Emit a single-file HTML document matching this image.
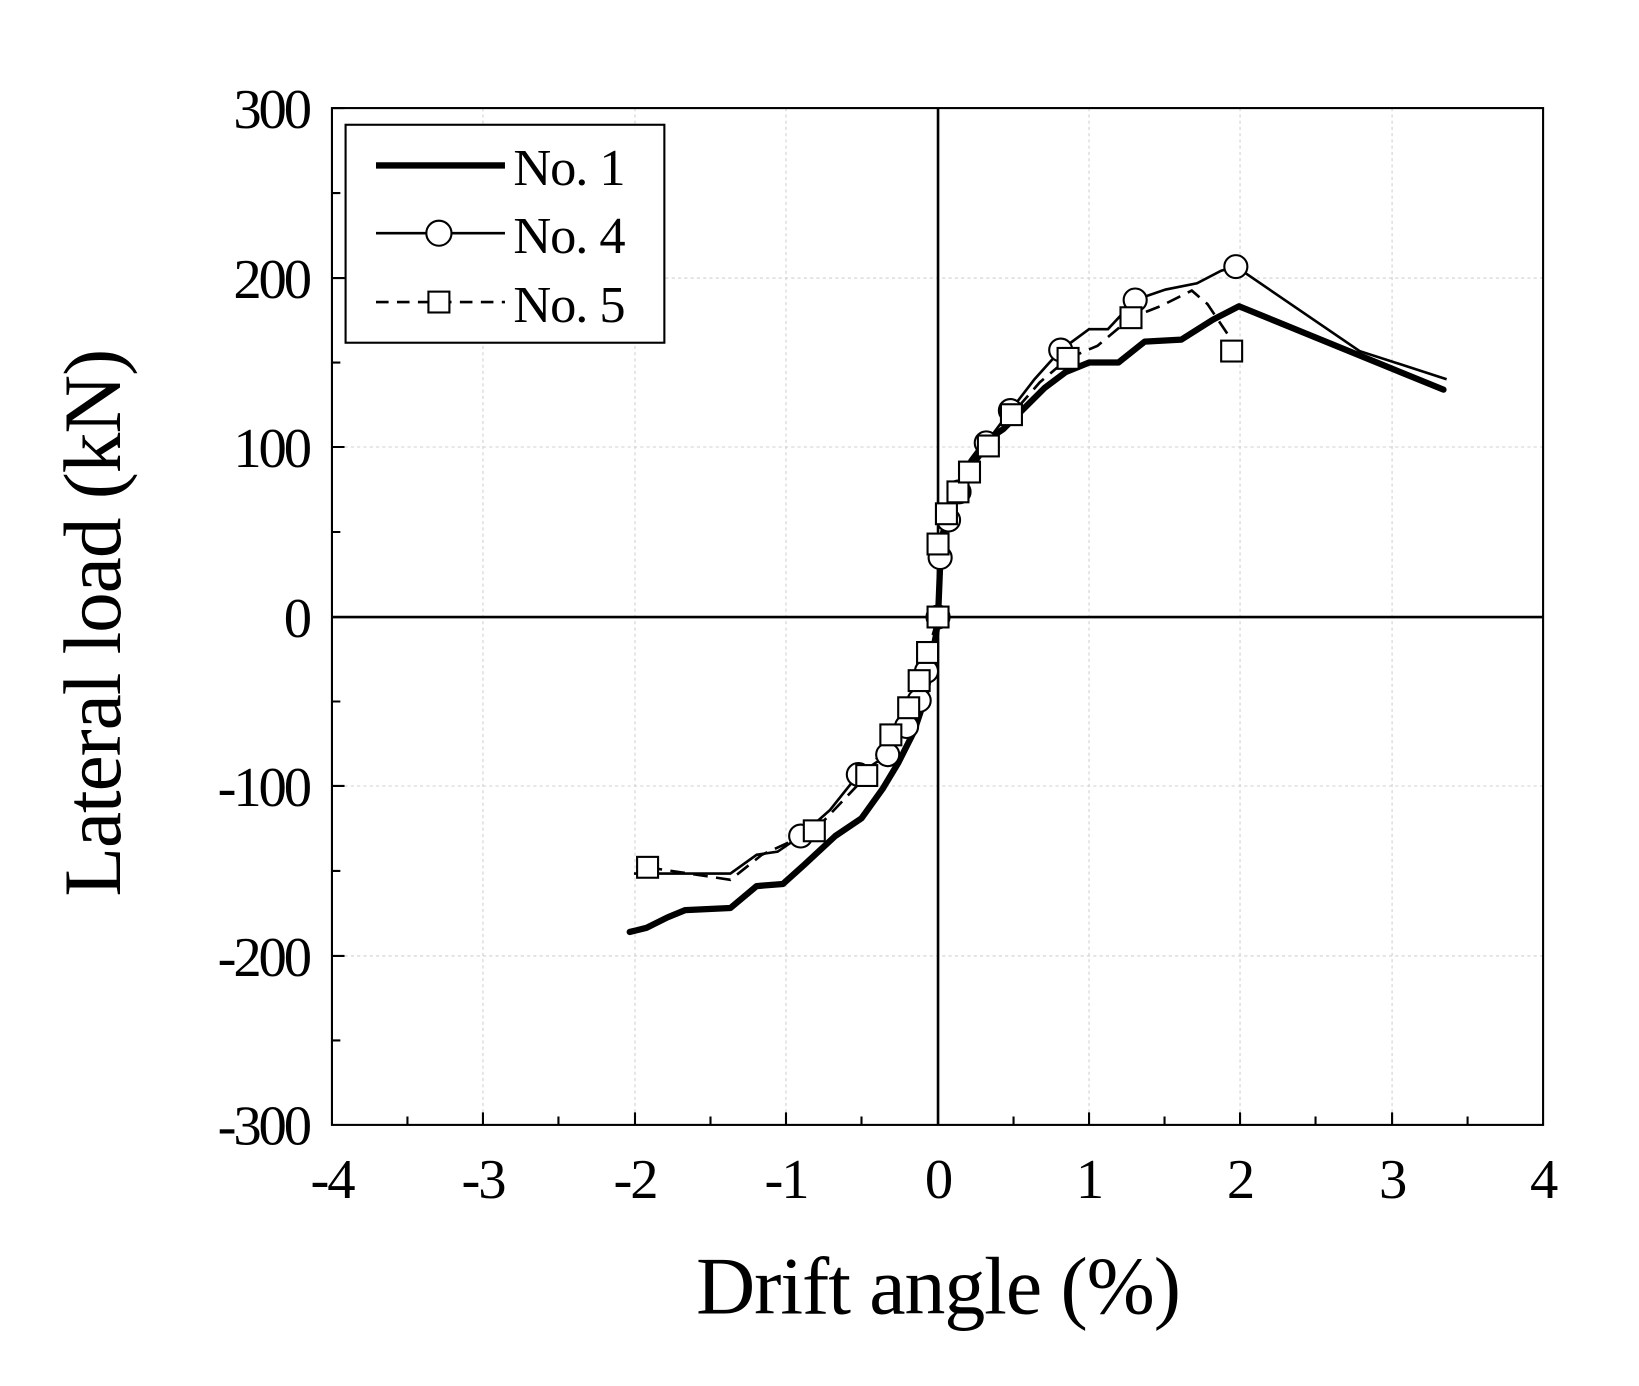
<!DOCTYPE html>
<html><head><meta charset="utf-8"><style>
html,body{margin:0;padding:0;background:#fff;}
svg{display:block;}
text{font-family:"Liberation Serif",serif;fill:#000;}
</style></head><body>
<svg width="1639" height="1386" viewBox="0 0 1639 1386" xmlns="http://www.w3.org/2000/svg">
<rect width="1639" height="1386" fill="#fff"/>
<g transform="matrix(1.0486 0 0 1.0429 -3.6 1.7)">
<g stroke="#d0d0d0" stroke-width="1" stroke-dasharray="3,3">
<line x1="464" y1="102" x2="464" y2="1077"/><line x1="609" y1="102" x2="609" y2="1077"/>
<line x1="753" y1="102" x2="753" y2="1077"/><line x1="1042" y1="102" x2="1042" y2="1077"/>
<line x1="1186" y1="102" x2="1186" y2="1077"/><line x1="1331" y1="102" x2="1331" y2="1077"/>
<line x1="320" y1="265" x2="1475" y2="265"/><line x1="320" y1="427" x2="1475" y2="427"/>
<line x1="320" y1="752" x2="1475" y2="752"/><line x1="320" y1="915" x2="1475" y2="915"/>
</g>
<line x1="898" y1="102" x2="898" y2="1077" stroke="#000" stroke-width="2.5"/>
<line x1="320" y1="590" x2="1475" y2="590" stroke="#000" stroke-width="2.5"/>
<rect x="320" y="102" width="1155" height="975" fill="none" stroke="#000" stroke-width="2"/>
<g stroke="#000" stroke-width="2">
<path d="M320 102h12M320 183.5h8M320 265h12M320 346h8M320 427h12M320 508.5h8M320 590h12M320 671h8M320 752h12M320 833.5h8M320 915h12M320 996h8"/>
<path d="M392 1077v-8M464 1077v-12M536 1077v-8M609 1077v-12M681 1077v-8M753 1077v-12M825 1077v-8M970 1077v-8M1042 1077v-12M1114 1077v-8M1186 1077v-12M1258 1077v-8M1331 1077v-12M1403 1077v-8"/>
</g>
<g font-size="54" text-anchor="end" letter-spacing="-3">
<text x="298" y="121">300</text><text x="298" y="284">200</text><text x="298" y="446">100</text>
<text x="298" y="609">0</text><text x="298" y="771">-100</text><text x="298" y="934">-200</text><text x="298" y="1096">-300</text>
</g>
<g font-size="54" text-anchor="middle" letter-spacing="-2">
<text x="320" y="1147">-4</text><text x="464" y="1147">-3</text><text x="609" y="1147">-2</text><text x="753" y="1147">-1</text>
<text x="898" y="1147">0</text><text x="1042" y="1147">1</text><text x="1186" y="1147">2</text><text x="1331" y="1147">3</text><text x="1475" y="1147">4</text>
</g>
<text x="898" y="1258" font-size="78" text-anchor="middle" letter-spacing="-1">Drift angle (%)</text>
<text transform="translate(118,596) rotate(-90)" font-size="78" text-anchor="middle" letter-spacing="-1">Lateral load (kN)</text>
<polyline fill="none" stroke="#000" stroke-width="6" stroke-linejoin="round" stroke-linecap="round" points="604,892 620,888 640,878 657,871 700,869 725,848 750,846 770,828 800,800 825,783 845,755 860,730 875,700 885,670 893,630 897,600 898,590 900,540 905,500 915,470 930,440 945,420 960,410 975,395 1000,370 1020,355 1042,346 1070,346 1095,326 1130,324 1160,305 1185,292 1380,372"/>
<polyline fill="none" stroke="#000" stroke-width="2.5" points="608,836 700,836 725,818 745,815 767,800 795,775 822,741 850,722 868,695 880,670 887,642 898,590 900,533 908,497 918,470 930,450 944,423 967,392 990,362 1015,334 1042,314 1060,314 1086,286 1115,276 1145,270 1168,258 1182,254 1300,335 1383,362"/>
<polyline fill="none" stroke="#000" stroke-width="2.5" stroke-dasharray="14,8" points="621,830 700,842 730,818 780,795 830,742 853,703 870,677 880,651 888,624 898,590 898,520 906,491 917,470 928,451 946,426 968,396 995,365 1022,342 1050,330 1082,303 1110,292 1140,277 1155,290 1175,320 1178,335"/>
<g fill="#fff" stroke="#000" stroke-width="2">
<circle cx="767" cy="800" r="11"/><circle cx="822" cy="741" r="11"/><circle cx="850" cy="722" r="11"/><circle cx="868" cy="695" r="11"/><circle cx="880" cy="670" r="11"/><circle cx="887" cy="642" r="11"/><circle cx="898" cy="590" r="11"/><circle cx="900" cy="533" r="11"/><circle cx="908" cy="497" r="11"/><circle cx="918" cy="470" r="11"/><circle cx="944" cy="423" r="11"/><circle cx="967" cy="392" r="11"/><circle cx="1015" cy="334" r="11"/><circle cx="1086" cy="286" r="11"/><circle cx="1182" cy="254" r="11"/>
</g>
<g fill="#fff" stroke="#000" stroke-width="2">
<rect x="611" y="820" width="20" height="20"/><rect x="770" y="785" width="20" height="20"/><rect x="820" y="732" width="20" height="20"/><rect x="843" y="693" width="20" height="20"/><rect x="860" y="667" width="20" height="20"/><rect x="870" y="641" width="20" height="20"/><rect x="878" y="614" width="20" height="20"/><rect x="888" y="580" width="20" height="20"/><rect x="888" y="510" width="20" height="20"/><rect x="896" y="481" width="20" height="20"/><rect x="907" y="460" width="20" height="20"/><rect x="918" y="441" width="20" height="20"/><rect x="936" y="416" width="20" height="20"/><rect x="958" y="386" width="20" height="20"/><rect x="1012" y="332" width="20" height="20"/><rect x="1072" y="293" width="20" height="20"/><rect x="1168" y="325" width="20" height="20"/>
</g>
<rect x="333" y="118" width="304" height="209" fill="#fff" stroke="#000" stroke-width="2"/>
<line x1="362" y1="157" x2="485" y2="157" stroke="#000" stroke-width="6"/>
<line x1="362" y1="222" x2="485" y2="222" stroke="#000" stroke-width="2.5"/>
<circle cx="422" cy="222" r="12" fill="#fff" stroke="#000" stroke-width="2"/>
<line x1="362" y1="288" x2="485" y2="288" stroke="#000" stroke-width="2.5" stroke-dasharray="12,8"/>
<rect x="412" y="278" width="20" height="20" fill="#fff" stroke="#000" stroke-width="2"/>
<g font-size="50" letter-spacing="-1"><text x="493" y="176">No. 1</text><text x="493" y="241">No. 4</text><text x="493" y="307">No. 5</text></g>
</g>
</svg>
</body></html>
